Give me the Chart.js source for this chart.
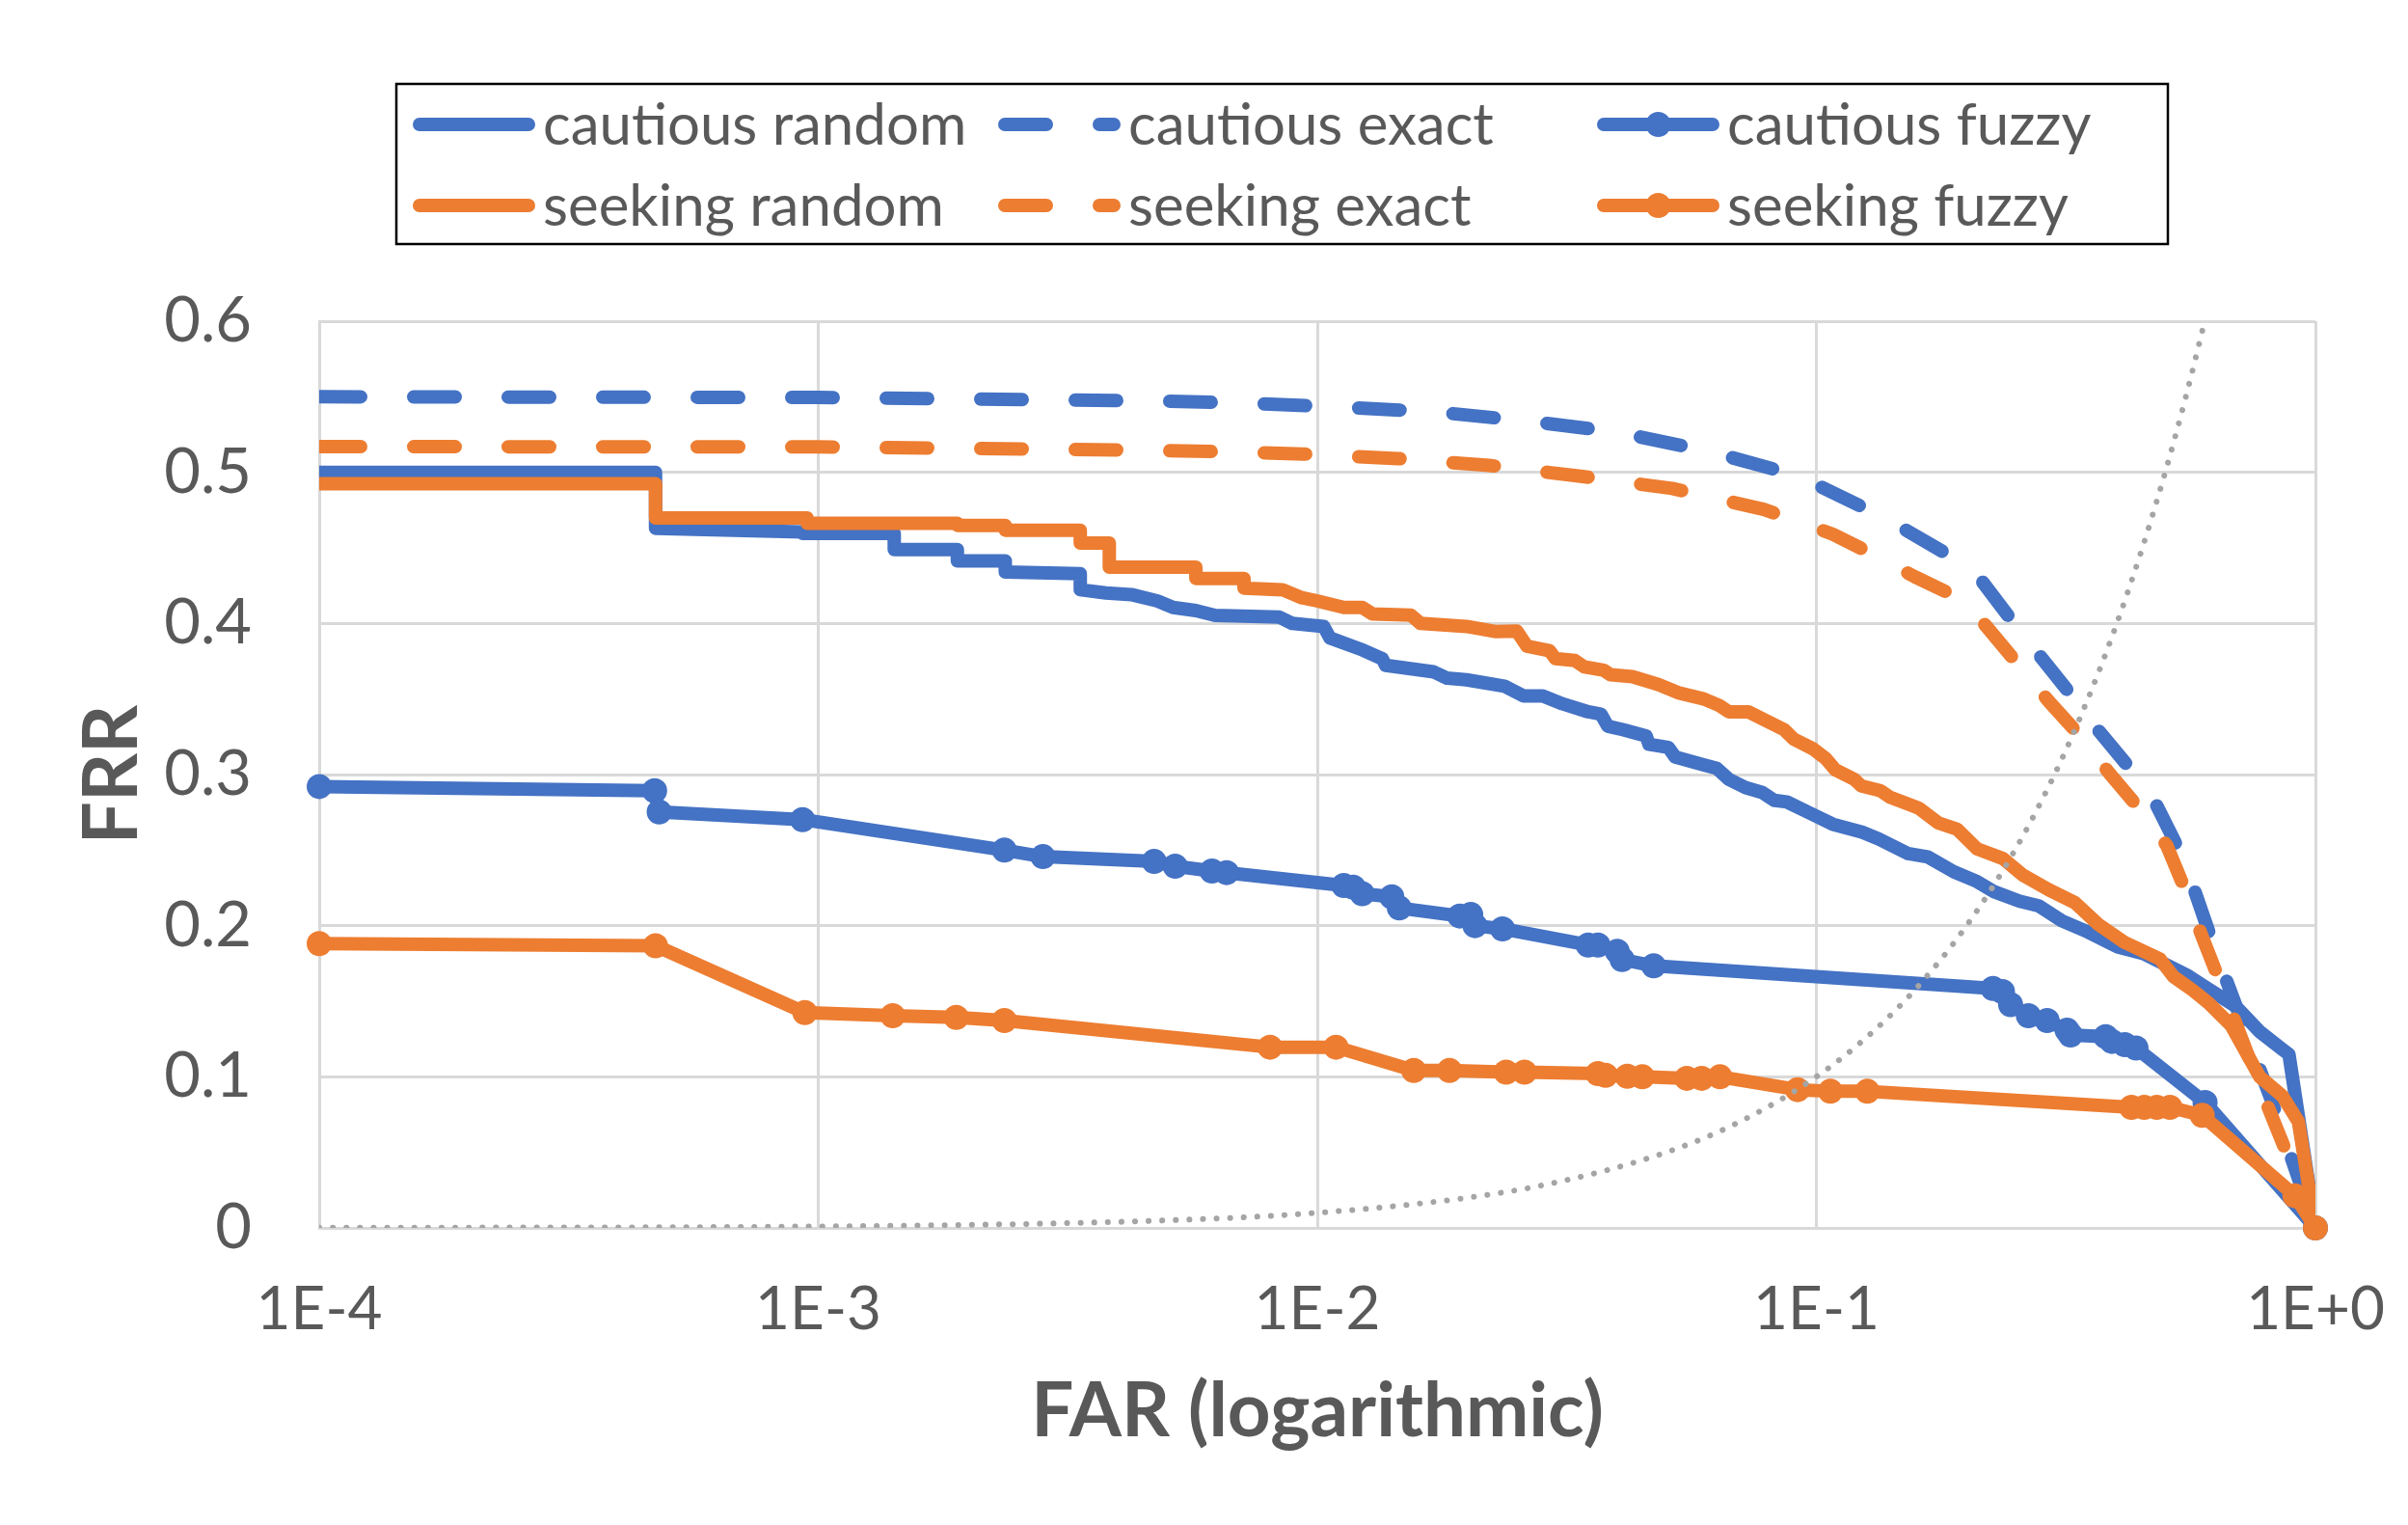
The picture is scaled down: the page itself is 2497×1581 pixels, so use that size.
<!DOCTYPE html>
<html>
<head>
<meta charset="utf-8">
<title>FAR vs FRR</title>
<script src="https://cdn.jsdelivr.net/npm/chart.js@4.4.1/dist/chart.umd.min.js"></script>
<style>
  html, body { margin: 0; padding: 0; background: #ffffff; }
  canvas { display: block; }
</style>
</head>
<body>
<canvas id="rocChart" width="2497" height="1581"></canvas>
<script>
// FAR / FRR pairs
const cautiousRandom = [
    [1e-4, 0.500], [4.72e-4, 0.500], [4.72e-4, 0.463], [9.3e-4, 0.4605], [9.3e-4, 0.4596],
    [1.42e-3, 0.4596], [1.42e-3, 0.4489], [1.9e-3, 0.4489], [1.9e-3, 0.4414], [2.37e-3, 0.4414],
    [2.37e-3, 0.434], [3.35e-3, 0.433], [3.35e-3, 0.4223], [3.77e-3, 0.4202], [4.24e-3, 0.4191],
    [4.78e-3, 0.4149], [5.14e-3, 0.4106], [5.71e-3, 0.4085], [6.24e-3, 0.4053], [8.39e-3, 0.4042],
    [8.91e-3, 0.400], [1.03e-2, 0.398], [1.06e-2, 0.3904], [1.22e-2, 0.383], [1.35e-2, 0.3766],
    [1.37e-2, 0.3723], [1.71e-2, 0.368], [1.82e-2, 0.3638], [1.99e-2, 0.3627], [2.37e-2, 0.3585],
    [2.59e-2, 0.352], [2.83e-2, 0.352], [3.10e-2, 0.3468], [3.49e-2, 0.3415], [3.70e-2, 0.340],
    [3.82e-2, 0.332], [4.10e-2, 0.3297], [4.56e-2, 0.3255], [4.62e-2, 0.320], [5.05e-2, 0.318],
    [5.21e-2, 0.3117], [5.95e-2, 0.3064], [6.31e-2, 0.3042], [6.68e-2, 0.2968], [7.21e-2, 0.2914],
    [7.78e-2, 0.2882], [8.24e-2, 0.2829], [8.73e-2, 0.2819], [9.71e-2, 0.2745], [0.1078, 0.2672],
    [0.1236, 0.2618], [0.1333, 0.2574], [0.1527, 0.2477], [0.1672, 0.2455], [0.1885, 0.2357],
    [0.2099, 0.2292], [0.2263, 0.2227], [0.2553, 0.2162], [0.2795, 0.213], [0.3104, 0.2032],
    [0.3453, 0.1967], [0.4017, 0.1859], [0.4528, 0.1815], [0.4884, 0.1761], [0.5517, 0.1674],
    [0.6126, 0.1577], [0.6915, 0.1468], [0.7736, 0.1298], [0.859, 0.1181], [0.885, 0.1149], [1, 0]
];
const cautiousExact = [
    [1e-4, 0.550], [1e-3, 0.5495], [3.25e-3, 0.5478], [4.9e-3, 0.5472], [7.3e-3, 0.5457],
    [1.11e-2, 0.5432], [1.72e-2, 0.540], [2.62e-2, 0.534], [3.99e-2, 0.5266], [6.1e-2, 0.5138],
    [9.17e-2, 0.4979], [0.1285, 0.4744], [0.1479, 0.4635], [0.1803, 0.447], [0.2004, 0.4407],
    [0.2113, 0.431], [0.244, 0.4038], [0.2752, 0.382], [0.3199, 0.355], [0.3586, 0.3334],
    [0.4171, 0.3073], [0.4707, 0.2856], [0.5233, 0.2552], [0.5645, 0.2293], [0.6087, 0.1978],
    [0.6513, 0.1707], [0.8151, 0.085], [0.871, 0.0576], [1, 0]
];
const cautiousFuzzy = [
    [1e-4, 0.2921], [4.7e-4, 0.2893], [4.8e-4, 0.2753], [9.3e-4, 0.2702], [2.36e-3, 0.250],
    [2.82e-3, 0.2457], [4.71e-3, 0.2425], [5.19e-3, 0.2394], [6.15e-3, 0.2362], [6.58e-3, 0.2351],
    [1.13e-2, 0.2266], [1.18e-2, 0.2255], [1.23e-2, 0.2212], [1.41e-2, 0.2191], [1.46e-2, 0.2117],
    [1.93e-2, 0.2064], [2.03e-2, 0.2074], [2.07e-2, 0.200], [2.35e-2, 0.1979], [3.49e-2, 0.1872],
    [3.65e-2, 0.1872], [3.99e-2, 0.183], [4.08e-2, 0.1776], [4.72e-2, 0.1734], [0.2259, 0.1585],
    [0.236, 0.1564], [0.245, 0.1478], [0.266, 0.1404], [0.290, 0.1372], [0.318, 0.1308],
    [0.323, 0.1277], [0.380, 0.1266], [0.391, 0.1234], [0.415, 0.1213], [0.437, 0.119],
    [0.601, 0.083], [1, 0]
];
const seekingRandom = [
    [1e-4, 0.4924], [4.72e-4, 0.4924], [4.72e-4, 0.4698], [9.5e-4, 0.4698], [9.5e-4, 0.4663],
    [1.9e-3, 0.4663], [1.9e-3, 0.4649], [2.37e-3, 0.4649], [2.37e-3, 0.4617], [3.35e-3, 0.4617],
    [3.35e-3, 0.4532], [3.83e-3, 0.4532], [3.83e-3, 0.4372], [5.71e-3, 0.4372], [5.71e-3, 0.4298],
    [7.13e-3, 0.4298], [7.13e-3, 0.4234], [8.52e-3, 0.4223], [9.31e-3, 0.417], [1.0e-2, 0.4149],
    [1.13e-2, 0.4106], [1.23e-2, 0.4106], [1.29e-2, 0.4063], [1.54e-2, 0.4055], [1.61e-2, 0.400],
    [1.99e-2, 0.398], [2.27e-2, 0.3947], [2.51e-2, 0.395], [2.63e-2, 0.385], [2.92e-2, 0.3819],
    [3.0e-2, 0.3767], [3.28e-2, 0.3755], [3.43e-2, 0.3712], [3.75e-2, 0.369], [3.87e-2, 0.366],
    [4.28e-2, 0.3648], [4.83e-2, 0.3595], [5.28e-2, 0.3542], [5.95e-2, 0.350], [6.39e-2, 0.3457],
    [6.68e-2, 0.3415], [7.31e-2, 0.3415], [7.78e-2, 0.337], [8.62e-2, 0.3297], [9.01e-2, 0.3234],
    [9.85e-2, 0.317], [0.1044, 0.3106], [0.1091, 0.3032], [0.1192, 0.2968], [0.123, 0.2925],
    [0.1344, 0.2893], [0.1405, 0.285], [0.1517, 0.2808], [0.1607, 0.2776], [0.1755, 0.268],
    [0.1913, 0.2639], [0.2099, 0.2509], [0.2366, 0.2444], [0.2591, 0.2335], [0.2921, 0.2238],
    [0.3298, 0.2152], [0.3664, 0.2011], [0.4137, 0.1891], [0.4884, 0.1778], [0.5196, 0.1663],
    [0.567, 0.1574], [0.6105, 0.1489], [0.6777, 0.134], [0.730, 0.1149], [0.7736, 0.100],
    [0.859, 0.0872], [0.9247, 0.0702], [1, 0]
];
const seekingExact = [
    [1e-4, 0.517], [1e-3, 0.5168], [3.99e-3, 0.5148], [6.16e-3, 0.5138], [9.4e-3, 0.5121],
    [1.45e-2, 0.5091], [2.21e-2, 0.5046], [3.37e-2, 0.4974], [5.14e-2, 0.4893], [7.85e-2, 0.4755],
    [0.1078, 0.4591], [0.1273, 0.4472], [0.1574, 0.4309], [0.1872, 0.419], [0.1985, 0.415],
    [0.2227, 0.3952], [0.2513, 0.3745], [0.2921, 0.3485], [0.3325, 0.328], [0.3866, 0.3008],
    [0.4365, 0.2802], [0.5037, 0.2531], [0.5429, 0.2271], [0.5902, 0.1945], [0.6319, 0.1696],
    [0.797, 0.083], [0.859, 0.0564], [1, 0]
];
const seekingFuzzy = [
    [1e-4, 0.1881], [4.72e-4, 0.1867], [9.4e-4, 0.1425], [1.41e-3, 0.1404], [1.89e-3, 0.1393],
    [2.36e-3, 0.1372], [8.04e-3, 0.1196], [1.09e-2, 0.1196], [1.56e-2, 0.1042], [1.84e-2, 0.1042],
    [2.39e-2, 0.1031], [2.6e-2, 0.1031], [3.65e-2, 0.1021], [3.78e-2, 0.101], [4.18e-2, 0.1004],
    [4.48e-2, 0.100], [5.5e-2, 0.099], [5.89e-2, 0.099], [6.41e-2, 0.100], [9.17e-2, 0.0915],
    [0.1067, 0.0904], [0.1265, 0.0904], [0.428, 0.0798], [0.454, 0.0798], [0.481, 0.0798],
    [0.511, 0.0798], [0.593, 0.0745], [0.91, 0.0213], [1, 0]
];
// the dotted FAR = FRR reference
const equalErrorLine = [
    [1e-4, 1e-4], [1e-3, 1e-3], [5e-3, 5e-3], [1e-2, 1e-2], [2e-2, 2e-2], [3e-2, 3e-2],
    [5e-2, 5e-2], [7e-2, 7e-2], [0.1, 0.1], [0.13, 0.13], [0.16, 0.16], [0.2, 0.2],
    [0.25, 0.25], [0.3, 0.3], [0.35, 0.35], [0.4, 0.4], [0.45, 0.45], [0.5, 0.5],
    [0.55, 0.55], [0.6, 0.6]
];

const xTickValues = [1e-4, 1e-3, 1e-2, 1e-1, 1];
const xTickLabels = ['1E-4', '1E-3', '1E-2', '1E-1', '1E+0'];
const yTickLabels = ['0', '0.1', '0.2', '0.3', '0.4', '0.5', '0.6'];

const BLUE = '#4472C4';
const ORANGE = '#ED7D31';
const GREY = '#A5A5A5';
const TEXT = '#595959';
const DASH = [43, 55];

Chart.defaults.font.family = "Lato, 'Noto Sans', sans-serif";
Chart.defaults.color = TEXT;

const toXY = pairs => pairs.map(([x, y]) => ({ x, y }));

function series(label, pairs, color, opts) {
    return Object.assign({
        label: label,
        data: toXY(pairs),
        borderColor: color,
        backgroundColor: color,
        borderWidth: 14,
        borderCapStyle: 'round',
        borderJoinStyle: 'round',
        pointRadius: 0,
        pointHoverRadius: 0,
        tension: 0,
        fill: false
    }, opts || {});
}

const fuzzyMarks = {
    pointRadius: 13,
    pointBorderWidth: 0,
    clip: false
};

// legend drawn by hand so the three columns line up like the original
const legendBox = { left: 411, top: 87, right: 2248, bottom: 253 };
const legendCols = [428, 1035, 1656];
const legendRows = [129, 213];
const legendSample = 127;

const boxLegend = {
    id: 'boxLegend',
    afterDraw(chart) {
        const ctx = chart.ctx;
        ctx.save();
        ctx.lineWidth = 2.5;
        ctx.strokeStyle = '#000000';
        ctx.strokeRect(legendBox.left, legendBox.top,
            legendBox.right - legendBox.left, legendBox.bottom - legendBox.top);

        chart.data.datasets.forEach((ds, i) => {
            if (ds.inLegend === false) return;
            const x0 = legendCols[i % 3];
            const y = legendRows[Math.floor(i / 3)];
            const half = ds.borderWidth / 2;

            ctx.beginPath();
            ctx.strokeStyle = ds.borderColor;
            ctx.lineWidth = ds.borderWidth;
            ctx.lineCap = 'round';
            ctx.setLineDash(ds.borderDash || []);
            ctx.moveTo(x0 + half, y);
            ctx.lineTo(x0 + legendSample - half, y);
            ctx.stroke();
            ctx.setLineDash([]);

            if (ds.pointRadius > 0) {
                ctx.beginPath();
                ctx.fillStyle = ds.borderColor;
                ctx.arc(x0 + legendSample / 2, y, ds.pointRadius, 0, Math.PI * 2);
                ctx.fill();
            }

            ctx.fillStyle = TEXT;
            ctx.font = "60px Lato, 'Noto Sans', sans-serif";
            ctx.textAlign = 'left';
            ctx.textBaseline = 'middle';
            ctx.fillText(ds.label, x0 + legendSample + 8, y + 2);
        });
        ctx.restore();
    }
};

new Chart(document.getElementById('rocChart'), {
    type: 'line',
    data: {
        datasets: [
            series('cautious random', cautiousRandom, BLUE, { order: 7 }),
            series('cautious exact', cautiousExact, BLUE, { order: 6, borderDash: DASH }),
            series('cautious fuzzy', cautiousFuzzy, BLUE, Object.assign({ order: 5 }, fuzzyMarks)),
            series('seeking random', seekingRandom, ORANGE, { order: 4 }),
            series('seeking exact', seekingExact, ORANGE, { order: 3, borderDash: DASH }),
            series('seeking fuzzy', seekingFuzzy, ORANGE, Object.assign({ order: 2 }, fuzzyMarks)),
            series('', equalErrorLine, GREY, {
                order: 1,
                inLegend: false,
                borderWidth: 6,
                borderDash: [0.1, 14],
                cubicInterpolationMode: 'monotone'
            })
        ]
    },
    options: {
        responsive: false,
        devicePixelRatio: 1,
        animation: false,
        layout: {
            padding: { top: 333, right: 96, left: 0, bottom: 0 }
        },
        plugins: {
            legend: { display: false },
            tooltip: { enabled: false }
        },
        scales: {
            x: {
                type: 'logarithmic',
                min: 1e-4,
                max: 1,
                afterBuildTicks: scale => {
                    scale.ticks = xTickValues.map(v => ({ value: v }));
                },
                afterFit: scale => {
                    // keep the plot edges fixed, the end labels may hang over
                    scale.height = 308;
                    scale.paddingLeft = 0;
                    scale.paddingRight = 0;
                },
                grid: { color: '#D9D9D9', lineWidth: 3, drawTicks: false },
                border: { color: '#D9D9D9', width: 3 },
                ticks: {
                    autoSkip: false,
                    maxRotation: 0,
                    padding: 48,
                    font: { size: 62 },
                    callback: (value, index) => xTickLabels[index]
                },
                title: {
                    display: true,
                    text: 'FAR (logarithmic)',
                    color: TEXT,
                    font: { size: 78, weight: 'bold' },
                    padding: { top: 0, bottom: 70 }
                }
            },
            y: {
                min: 0,
                max: 0.6,
                afterFit: scale => {
                    scale.width = 331;
                    scale.paddingTop = 0;
                    scale.paddingBottom = 0;
                },
                grid: { color: '#D9D9D9', lineWidth: 3, drawTicks: false },
                border: { color: '#D9D9D9', width: 3 },
                ticks: {
                    stepSize: 0.1,
                    padding: 70,
                    font: { size: 65 },
                    callback: (value, index) => yTickLabels[index]
                },
                title: {
                    display: true,
                    text: 'FRR',
                    color: TEXT,
                    font: { size: 78, weight: 'bold' },
                    padding: { top: 70, bottom: 0 }
                }
            }
        }
    },
    plugins: [boxLegend]
});
</script>
</body>
</html>
